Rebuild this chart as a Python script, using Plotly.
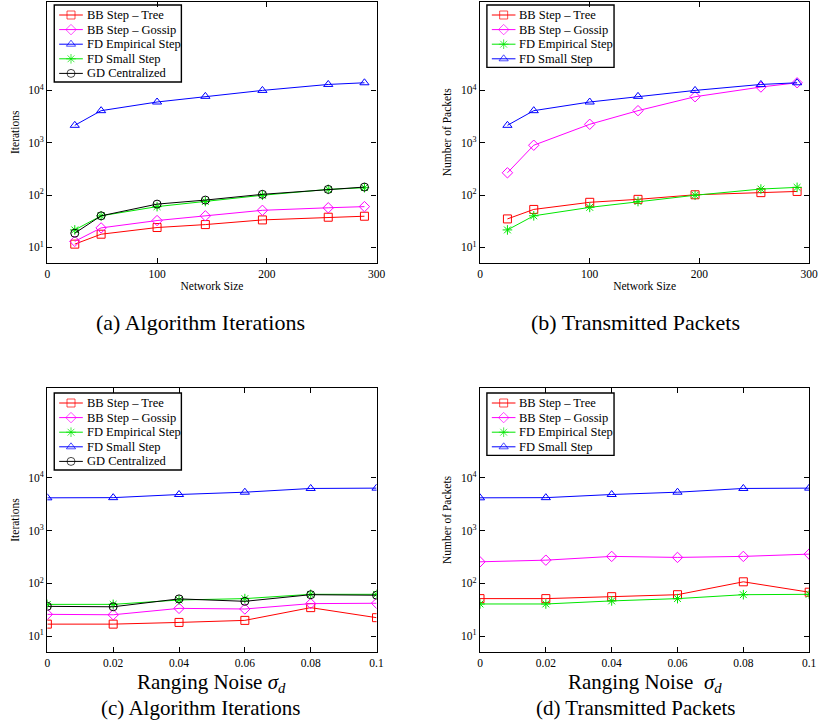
import plotly.graph_objects as go

# ---------------- data ----------------
network_size = [25, 49, 100, 144, 196, 256, 289]
noise_sigma = [0, 0.02, 0.04, 0.06, 0.08, 0.1]

# (a) iterations vs network size
iter_bb_tree = [11.5, 17.8, 23.9, 27.2, 33.4, 37.6, 39.3]
iter_bb_gossip = [13, 23.5, 32.5, 40, 51, 57, 60]
iter_fd_empirical = [2150, 4100, 6000, 7700, 10000, 13000, 14000]
iter_fd_small = [21.5, 40, 60, 75, 99, 128, 138]
iter_gd_central = [18.6, 40, 67, 80, 103, 128, 142]

# (b) packets vs network size
pkt_bb_tree = [34.9, 53, 72.5, 82.6, 101, 111, 117]
pkt_bb_gossip = [266, 895, 2250, 4100, 7570, 11600, 14000]
pkt_fd_empirical = [21.5, 40, 58, 75, 99, 130, 140]
pkt_fd_small = [2150, 4100, 6000, 7700, 10000, 13000, 14000]

# (c) iterations vs ranging noise
nz_iter_bb_tree = [16.9, 16.9, 18.2, 19.9, 34.7, 22.4]
nz_iter_bb_gossip = [25.9, 25.4, 33.6, 32.7, 41.3, 42]
nz_iter_fd_empirical = [40, 40, 48.4, 51.4, 62, 62]
nz_iter_fd_small = [4170, 4200, 4820, 5330, 6270, 6360]
nz_iter_gd_central = [36.7, 36, 50.8, 45.7, 61, 59.6]

# (d) packets vs ranging noise
nz_pkt_bb_tree = [51.4, 51.4, 56, 61, 107, 68]
nz_pkt_bb_gossip = [256, 275, 324, 310, 324, 358]
nz_pkt_fd_empirical = [40.7, 40.7, 46.5, 51.4, 61, 62]
nz_pkt_fd_small = [4170, 4200, 4820, 5330, 6270, 6360]

y_tick_vals = [10, 100, 1000, 10000]
y_tick_text = ["10<sup>1</sup>", "10<sup>2</sup>", "10<sup>3</sup>", "10<sup>4</sup>"]
size_ticks = [0, 100, 200, 300]
noise_ticks = [0, 0.02, 0.04, 0.06, 0.08, 0.1]
noise_tick_text = ["0", "0.02", "0.04", "0.06", "0.08", "0.1"]

NAME_TREE = "BB Step \u2013 Tree"
NAME_GOSSIP = "BB Step \u2013 Gossip"
NAME_EMP = "FD Empirical Step"
NAME_SMALL = "FD Small Step"
NAME_GD = "GD Centralized"

# ---------------- styles ----------------
SERIF = "Liberation Serif"
RED, MAGENTA, BLUE, GREEN, BLACK = "#ff0000", "#ff00ff", "#0000ff", "#00e600", "#000000"
STYLE = {
    "tree": (RED, "square-open"),
    "gossip": (MAGENTA, "diamond-open"),
    "tri": (BLUE, "triangle-up-open"),
    "star": (GREEN, "asterisk-open"),
    "circ": (BLACK, "circle-open"),
}
MARKER_SIZE = 8

W, H = 830, 725
fig = go.Figure()


def add(x, y, name, style, ax):
    color, symbol = STYLE[style]
    fig.add_trace(go.Scatter(
        x=x, y=y, name=name, mode="lines+markers", showlegend=False,
        line=dict(color=color, width=1),
        marker=dict(symbol=symbol, size=MARKER_SIZE, color=color,
                    line=dict(color=color, width=1)),
        xaxis="x" + ax, yaxis="y" + ax,
    ))


# (a)
panel_a = [(network_size, iter_bb_tree, NAME_TREE, "tree"),
           (network_size, iter_bb_gossip, NAME_GOSSIP, "gossip"),
           (network_size, iter_fd_empirical, NAME_EMP, "tri"),
           (network_size, iter_fd_small, NAME_SMALL, "star"),
           (network_size, iter_gd_central, NAME_GD, "circ")]
# (b)
panel_b = [(network_size, pkt_bb_tree, NAME_TREE, "tree"),
           (network_size, pkt_bb_gossip, NAME_GOSSIP, "gossip"),
           (network_size, pkt_fd_empirical, NAME_EMP, "star"),
           (network_size, pkt_fd_small, NAME_SMALL, "tri")]
# (c)
panel_c = [(noise_sigma, nz_iter_bb_tree, NAME_TREE, "tree"),
           (noise_sigma, nz_iter_bb_gossip, NAME_GOSSIP, "gossip"),
           (noise_sigma, nz_iter_fd_empirical, NAME_EMP, "star"),
           (noise_sigma, nz_iter_fd_small, NAME_SMALL, "tri"),
           (noise_sigma, nz_iter_gd_central, NAME_GD, "circ")]
# (d)
panel_d = [(noise_sigma, nz_pkt_bb_tree, NAME_TREE, "tree"),
           (noise_sigma, nz_pkt_bb_gossip, NAME_GOSSIP, "gossip"),
           (noise_sigma, nz_pkt_fd_empirical, NAME_EMP, "star"),
           (noise_sigma, nz_pkt_fd_small, NAME_SMALL, "tri")]

panels = [(panel_a, "", (52, 5)), (panel_b, "2", (491, 5)),
          (panel_c, "3", (52, 393)), (panel_d, "4", (491, 393))]

for series, ax, _ in panels:
    for x, y, name, style in series:
        add(x, y, name, style, ax)

# ---------------- compact boxed legends (pixel-space overlay axes) ----------------
ROW_H, FIRST_ROW, PAD_BOTTOM = 14.6, 10, 8.6
LINE_X0, LINE_LEN, TEXT_X, BOX_W = 5, 24, 31, 129

shapes, annotations = [], []
for series, _, (bx, by) in panels:
    n = len(series)
    box_h = FIRST_ROW + (n - 1) * ROW_H + PAD_BOTTOM
    shapes.append(dict(type="rect", xref="x5", yref="y5", x0=bx, x1=bx + BOX_W,
                       y0=by, y1=by + box_h, line=dict(color="black", width=1.4),
                       fillcolor="rgba(0,0,0,0)", layer="above"))
    for i, (_, _, name, style) in enumerate(series):
        color, symbol = STYLE[style]
        ry = by + FIRST_ROW + i * ROW_H
        lx0 = bx + LINE_X0
        fig.add_trace(go.Scatter(
            x=[lx0, lx0 + LINE_LEN / 2, lx0 + LINE_LEN], y=[ry, ry, ry],
            mode="lines+markers", showlegend=False, hoverinfo="skip",
            line=dict(color=color, width=1),
            marker=dict(symbol=symbol, size=[0, MARKER_SIZE, 0], color=color,
                        line=dict(color=color, width=1)),
            xaxis="x5", yaxis="y5",
        ))
        annotations.append(dict(text=name, x=bx + TEXT_X, y=ry, xref="x5", yref="y5",
                                xanchor="left", yanchor="middle", showarrow=False,
                                font=dict(family=SERIF, size=12.5, color="black")))

left_dom = [45 / W, 379 / W]
right_dom = [484 / W, 818 / W]
top_dom = [1 - 263 / H, 1 - 1.5 / H]
bot_dom = [1 - 652 / H, 1 - 388 / H]

axis_common = dict(
    showline=True, linecolor="black", linewidth=1.3, mirror="ticks",
    ticks="inside", ticklen=5, tickcolor="black", tickwidth=1,
    showgrid=False, zeroline=False,
    tickfont=dict(family=SERIF, size=11.5, color="black"),
)


def xaxis(dom, anchor, kind):
    d = dict(axis_common, domain=dom, anchor=anchor)
    if kind == "size":
        d.update(range=[0, 300], tickvals=size_ticks,
                 title=dict(text="Network Size", standoff=2,
                            font=dict(family=SERIF, size=11.5, color="black")))
    else:
        d.update(range=[0, 0.1], tickvals=noise_ticks, ticktext=noise_tick_text)
    return d


def yaxis(dom, anchor, title):
    return dict(axis_common, domain=dom, anchor=anchor, type="log",
                range=[0.7, 5.7], tickvals=y_tick_vals, ticktext=y_tick_text,
                title=dict(text=title, standoff=6,
                           font=dict(family=SERIF, size=11.5, color="black")))


fig.update_layout(
    width=W, height=H, margin=dict(l=0, r=0, t=0, b=0),
    paper_bgcolor="white", plot_bgcolor="rgba(0,0,0,0)",
    showlegend=False,
    xaxis=xaxis(left_dom, "y", "size"), yaxis=yaxis(top_dom, "x", "Iterations"),
    xaxis2=xaxis(right_dom, "y2", "size"), yaxis2=yaxis(top_dom, "x2", "Number of Packets"),
    xaxis3=xaxis(left_dom, "y3", "noise"), yaxis3=yaxis(bot_dom, "x3", "Iterations"),
    xaxis4=xaxis(right_dom, "y4", "noise"), yaxis4=yaxis(bot_dom, "x4", "Number of Packets"),
    xaxis5=dict(domain=[0, 1], range=[0, W], visible=False, fixedrange=True, anchor="y5"),
    yaxis5=dict(domain=[0, 1], range=[H, 0], visible=False, fixedrange=True, anchor="x5"),
    shapes=shapes,
)

# noise-axis titles
for text, cx in [("Ranging Noise <i>\u03c3<sub>d</sub></i>", 212),
                 ("Ranging Noise\u00a0 <i>\u03c3<sub>d</sub></i>", 651)]:
    annotations.append(dict(text=text, x=cx / W, y=1 - 683 / H, xref="paper", yref="paper",
                            xanchor="center", yanchor="middle", showarrow=False,
                            font=dict(family=SERIF, size=21, color="black")))

captions = [
    ("(a) Algorithm Iterations", 200, 322, 22),
    ("(b) Transmitted Packets", 642, 322, 22),
    ("(c) Algorithm Iterations", 200, 708, 21),
    ("(d) Transmitted Packets", 642, 708, 21),
]
for text, cx, cy, fs in captions:
    annotations.append(dict(text=text, x=cx / W, y=1 - cy / H, xref="paper", yref="paper",
                            xanchor="center", yanchor="middle", showarrow=False,
                            font=dict(family=SERIF, size=fs, color="black")))

fig.update_layout(annotations=annotations)
fig.write_html("out.html")
